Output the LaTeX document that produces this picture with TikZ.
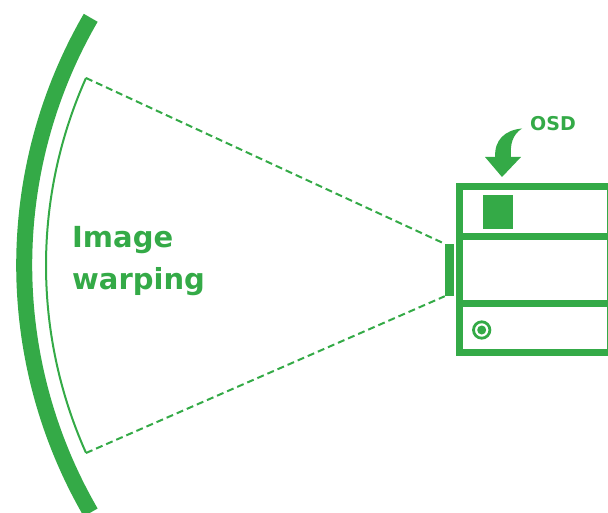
\documentclass[tikz,border=0pt]{standalone}
\usepackage{fontspec}
\setmainfont{DejaVu Sans}
\definecolor{grn}{RGB}{52,170,71}
\begin{document}
\begin{tikzpicture}[x=1pt,y=-1pt,
  lbl/.style={text=grn,font=\bfseries\fontsize{29}{34}\selectfont,inner sep=0pt},
  osdlbl/.style={text=grn,font=\bfseries\fontsize{19}{23}\selectfont,inner sep=0pt},
  dashline/.style={draw=grn,line width=2pt,dash pattern=on 7pt off 4pt},
  boxline/.style={draw=grn,line width=7pt},
  filled/.style={fill=grn,draw=none}]
\useasboundingbox (0,0) rectangle (608,513);
% thick outer arc
\draw[grn,line width=16pt] (90.7,17.8) arc[start angle=210.1,end angle=149.9,radius=493.2];
% thin inner arc
\coordinate (arcT) at (86,78);
\coordinate (arcB) at (86,453);
\draw[grn,line width=2pt] (arcT) arc[start angle=204.1,end angle=155.9,radius=459];
% lens
\node[filled,minimum width=9pt,minimum height=52pt,inner sep=0pt] (lens) at (449.5,270) {};
\draw[dashline] (arcT) -- (lens.north west);
\draw[dashline] (arcB) -- (lens.south west);
% box
\draw[boxline] (459.7,187) rectangle (610.5,352.7);
\draw[boxline] (459.7,236.3) -- (610.5,236.3);
\draw[boxline] (459.7,303) -- (610.5,303);
\node[filled,minimum width=30pt,minimum height=34pt,inner sep=0pt] (sq) at (498,212) {};
\node[draw=grn,line width=2.8pt,circle,minimum size=16.4pt,inner sep=0pt] (radio) at (481.7,330) {};
\fill[grn] (radio.center) circle[radius=4.5pt];
% OSD arrow
\fill[grn] (485,157) -- (521,157) -- (502,177) -- cycle;
\fill[grn] (495.2,157.5) .. controls (494,140) and (505,130) .. (522,128.5)
  .. controls (512,135) and (510,145) .. (511,157.5) -- cycle;
\node[osdlbl] (osd) at (553,124) {OSD};
% label
\node[lbl,anchor=base west] (img) at (72,248) {Image};
\node[lbl,anchor=base west] (warp) at (72,289.3) {warping};
\end{tikzpicture}
\end{document}
